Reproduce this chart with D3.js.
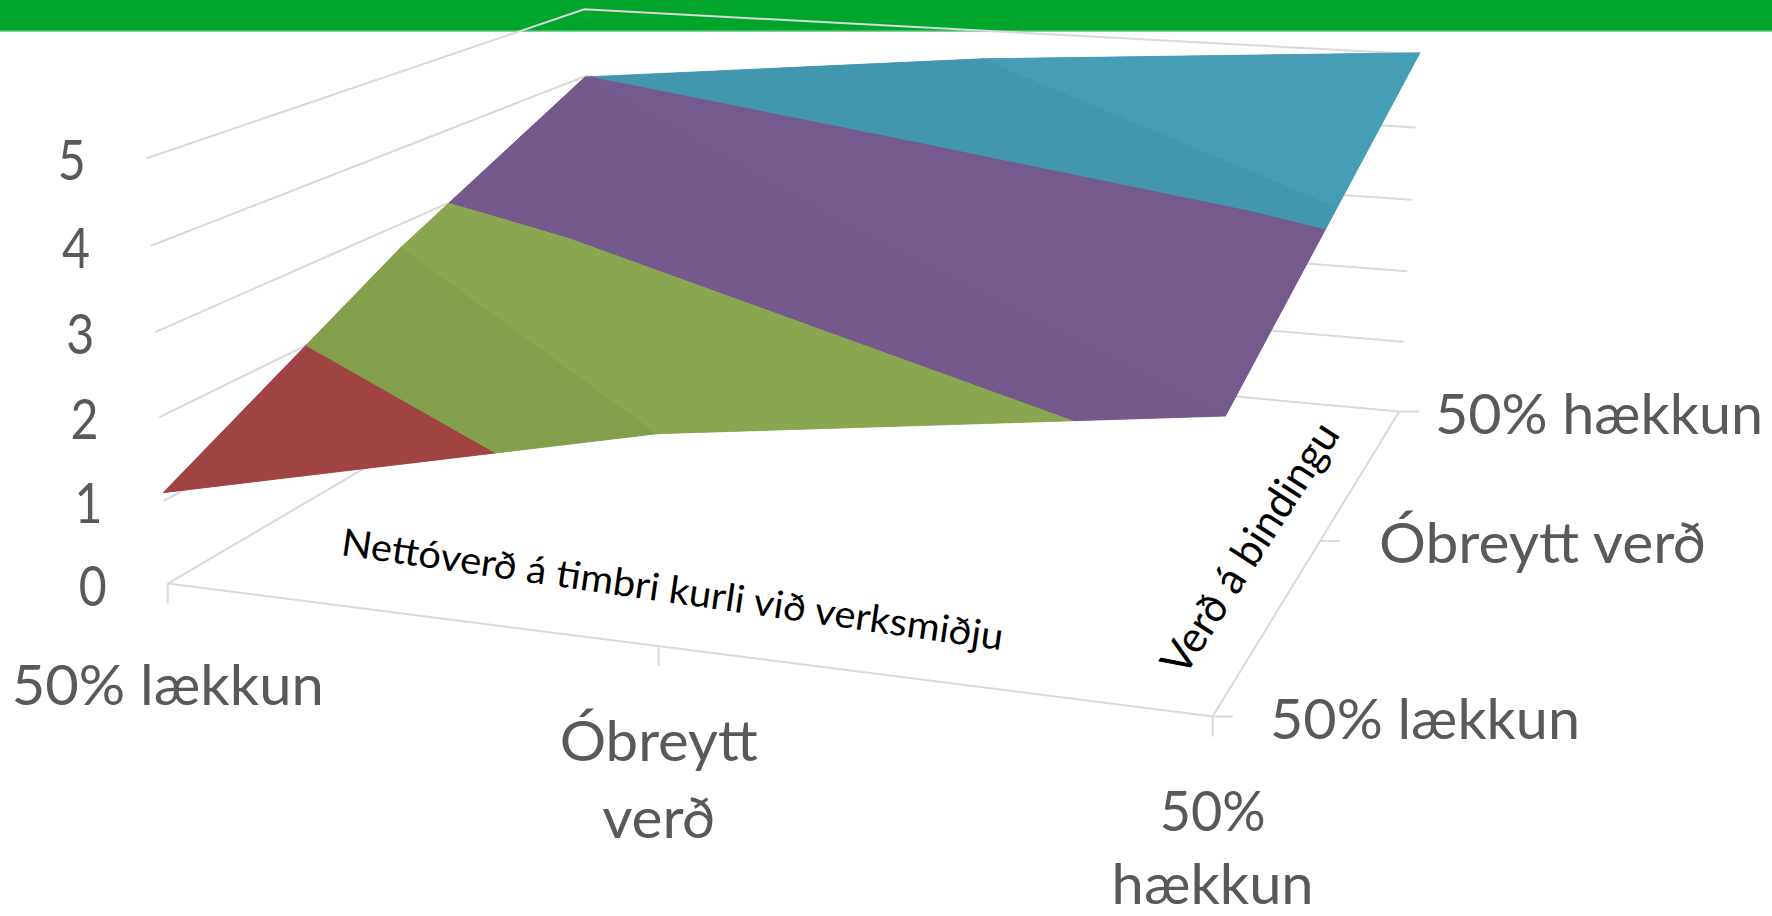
<!DOCTYPE html><html><head><meta charset="utf-8"><script src="https://cdn.jsdelivr.net/npm/d3@7"></script><style>html,body{margin:0;background:#fff}svg{display:block}text{font-family:Lato,"Open Sans",sans-serif}</style></head><body><svg id="c" width="1772" height="916"></svg><script>
// Data
const timberCategories=["50% lækkun","Óbreytt verð","50% hækkun"];
const bindingCategories=["50% lækkun","Óbreytt verð","50% hækkun"];
const valueTicks=[0,1,2,3,4,5];
const rowLow=[1.10,2.41,3.20];
const rowMid=[2.69,3.48,4.11];
const rowHigh=[3.99,4.60,5.02];
const grid=[rowLow,rowMid,rowHigh];
const bandColors=["#4a7ebb","#aa4847","#8ca951","#755a8e","#4297af"];
const timberTitle="Nettóverð á timbri kurli við verksmiðju";
const bindingTitle="Verð á bindingu";

// Camera calibration: floor/wall corners of the 3D box as seen in the picture
const anchors=[[0,0,0,169.5,583.7],[2,0,0,1212,716],[2,2,0,1399,412],[0,2,0,586,336],[0,0,1,164,501],[0,0,2,159,417],[0,0,3,155,332.7],[0,0,4,150,246],[0,0,5,145.8,158],[2,2,1,1404,342],[2,2,2,1408,272],[2,2,3,1411.4,200],[2,2,4,1415,127.7],[2,2,5,1419,53],[0,2,5,586,9.3],[0,2,4,586,76.7],[1,0,0,659,646],[2,1,0,1321,541]];
function solve(A,b){const n=b.length;A=A.map((r,i)=>[...r,b[i]]);for(let i=0;i<n;i++){let m=i;for(let k=i+1;k<n;k++)if(Math.abs(A[k][i])>Math.abs(A[m][i]))m=k;[A[i],A[m]]=[A[m],A[i]];for(let k=0;k<n;k++)if(k!=i){const f=A[k][i]/A[i][i];for(let j=i;j<=n;j++)A[k][j]-=f*A[i][j];}}return A.map((r,i)=>r[n]/r[i]);}
function fit(){const R=[],B=[];for(const [X,Y,Z,u0,v0] of anchors){const u=u0/1000,v=v0/1000;R.push([X,Y,Z,1,0,0,0,0,-u*X,-u*Y,-u*Z]);B.push(u);R.push([0,0,0,0,X,Y,Z,1,-v*X,-v*Y,-v*Z]);B.push(v);}const n=11,A=d3.range(n).map(i=>d3.range(n).map(j=>d3.sum(R,r=>r[i]*r[j]))),b=d3.range(n).map(i=>d3.sum(R,(r,k)=>r[i]*B[k]));return solve(A,b);}
const p=fit();
const zScale=d3.scaleLinear().domain([0,5]).range([0,5]);
const xScale=d3.scalePoint().domain(timberCategories).range([0,2]);
const P=(X,Y,Z)=>{const z=zScale(Z),w=p[8]*X+p[9]*Y+p[10]*z+1;return[1000*(p[0]*X+p[1]*Y+p[2]*z+p[3])/w,1000*(p[4]*X+p[5]*Y+p[6]*z+p[7])/w]};
const svg=d3.select('#c');
const line=d3.line();
const GRID="#d9d9d9",TXT="#595959";

// header band
svg.append('rect').attr('width',1772).attr('height',36).attr('fill','#f7fdfa');
svg.append('rect').attr('width',1772).attr('height',31).attr('fill','#00a52b');
svg.append('rect').attr('y',30.5).attr('width',1772).attr('height',1.5).attr('fill','#7fd196');

// walls
const g=svg.append('g').attr('fill','none').attr('stroke',GRID).attr('stroke-width',2);
for(const z of valueTicks)g.append('path').attr('d',line([P(0,0,z),P(0,2,z),P(2,2,z)]));
g.append('path').attr('d',line([P(0,0,0),P(2,0,0),P(2,2,0)]));
// ticks
timberCategories.forEach((c,i)=>{const q=P(xScale(c),0,0);g.append('path').attr('d',line([q,[q[0],q[1]+20]]));});
bindingCategories.forEach((c,i)=>{const q=P(2,i,0);g.append('path').attr('d',line([q,[q[0]+20,q[1]]]));});

// surface: two triangles per cell, each cut into value bands
const tris=[
 {v:[[0,0],[1,0],[0,1]],k:.94},{v:[[1,0],[1,1],[0,1]],k:.985},
 {v:[[1,0],[2,0],[1,1]],k:.985},{v:[[2,0],[2,1],[1,1]],k:1},
 {v:[[0,1],[1,1],[0,2]],k:.985},{v:[[1,1],[1,2],[0,2]],k:1},
 {v:[[1,1],[2,1],[1,2]],k:1},{v:[[2,1],[2,2],[1,2]],k:1.04}];
function clip(poly,val,keepAbove){const out=[];poly.forEach((a,i)=>{const b=poly[(i+1)%poly.length],ina=keepAbove?a[2]>=val:a[2]<=val,inb=keepAbove?b[2]>=val:b[2]<=val;if(ina)out.push(a);if(ina!==inb){const t=(val-a[2])/(b[2]-a[2]);out.push([a[0]+t*(b[0]-a[0]),a[1]+t*(b[1]-a[1]),val]);}});return out;}
const faces=[];
for(const t of tris){const base=t.v.map(([x,y])=>[x,y,grid[y][x]]);
 bandColors.forEach((col,b)=>{const poly=clip(clip(base,b,true),b+1+(b==4?1:0),false);if(poly.length<3)return;
  const c=d3.rgb(col);faces.push({d:line(poly.map(q=>P(...q)))+'Z',f:d3.rgb(c.r*t.k,c.g*t.k,c.b*t.k).formatHex()});});}
// under-layer with strokes closes anti-aliasing seams; the top layer hides the stroke overlap
const under=svg.append('g'),over=svg.append('g');
under.selectAll('path').data(faces).join('path').attr('d',d=>d.d).attr('fill',d=>d.f).attr('stroke',d=>d.f).attr('stroke-width',.8);
over.selectAll('path').data(faces).join('path').attr('d',d=>d.d).attr('fill',d=>d.f);

// value labels
const T=(x,y,str,size,len,fill,anchor)=>svg.append('text').attr('x',x).attr('y',y).attr('font-size',size).attr('fill',fill||TXT).attr('text-anchor',anchor||'middle').attr('textLength',len).attr('lengthAdjust','spacingAndGlyphs').text(str);
valueTicks.forEach(z=>{const q=P(0,0,z);T(q[0]-75,q[1]+22,z,57,28);});

// timber axis labels (wrapped as in the picture)
const cx=i=>P(i,0,0)[0];
T(cx(0),705,"50% lækkun",57,312);
T(cx(1),761,"Óbreytt",57,198);T(cx(1),838,"verð",57,113);
T(cx(2),831,"50%",57,106);T(cx(2),904,"hækkun",57,202);
// binding axis labels
T(1270,739,bindingCategories[0],57,310,TXT,'start');
T(1379,563,bindingCategories[1],57,327,TXT,'start');
T(1435,434,bindingCategories[2],57,328,TXT,'start');
// axis titles
svg.append('text').attr('transform','translate(340,555) rotate(8.2)').attr('font-size',38).attr('fill','#000').attr('textLength',668).attr('lengthAdjust','spacingAndGlyphs').text(timberTitle);
svg.append('text').attr('transform','translate(1184,678) rotate(-57.2)').attr('font-size',43).attr('fill','#000').attr('textLength',290).attr('lengthAdjust','spacingAndGlyphs').text(bindingTitle);
</script></body></html>
